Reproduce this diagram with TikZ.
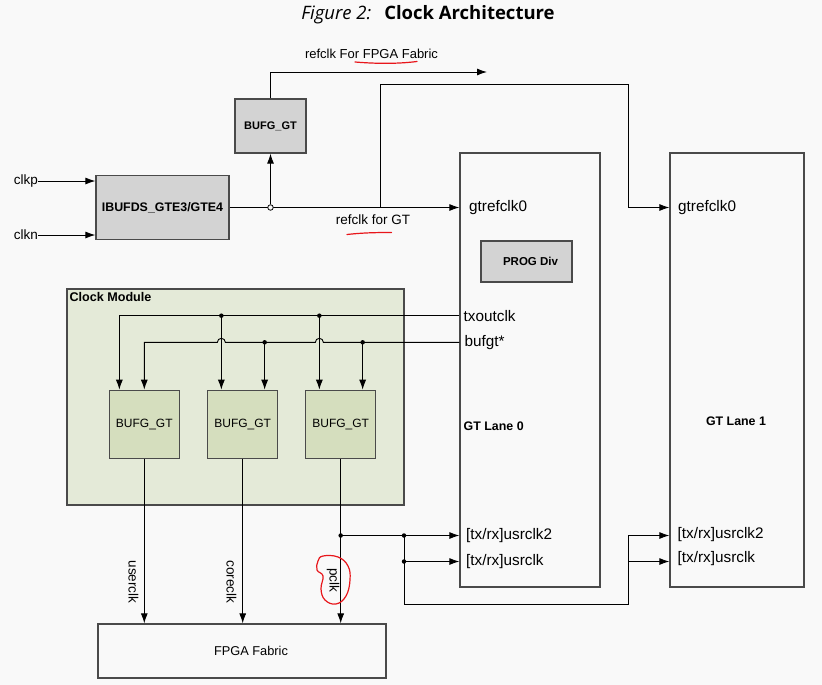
\documentclass[tikz,border=0pt]{standalone}
\usepackage{fontspec}
\setmainfont{Liberation Sans}
\newfontfamily\titlefont{Open Sans}
\usetikzlibrary{arrows.meta,calc}
\definecolor{bgc}{HTML}{F9F9F9}
\definecolor{boxgray}{HTML}{D3D3D3}
\definecolor{boxline}{HTML}{4A4A4A}
\definecolor{cmfill}{HTML}{E4EAD8}
\definecolor{bgfill}{HTML}{D5DEBE}
\definecolor{annot}{HTML}{E8161B}
\begin{document}
\begin{tikzpicture}[x=1pt,y=-1pt,
  box/.style={draw=boxline, line width=1.3pt, inner sep=0pt, align=center},
  graybox/.style={box, fill=boxgray, font=\fontsize{11.5}{14}\selectfont\bfseries},
  greenbox/.style={box, fill=bgfill, minimum width=70, minimum height=68, font=\fontsize{12}{14}\selectfont},
  lbl/.style={inner sep=0pt, font=\fontsize{13.5}{16}\selectfont},
  port/.style={inner sep=0pt, anchor=west, font=\fontsize{15.3}{18}\selectfont},
  wire/.style={line width=0.9pt, draw=black},
  arr/.style={wire, -{Latex[length=10pt,width=7pt]}},
  dot/.style={circle, fill=black, inner sep=0pt, minimum size=4.5pt},
  redline/.style={draw=annot, line width=1.2pt, line cap=round, line join=round},
  ]
\fill[bgc] (0,0) rectangle (822,685);
\useasboundingbox (0,0) rectangle (822,685);

% title
\node[inner sep=0pt, font=\titlefont\fontsize{18.5}{22}\selectfont] (title) at (428,15)
  {{\itshape Figure 2:}\hspace{13pt}{\bfseries Clock Architecture}};

% boxes
\node[graybox, minimum width=71, minimum height=54, font=\fontsize{11}{13}\selectfont\bfseries] (bufgtop) at (270.5,126) {BUFG\_GT};
\node[graybox, minimum width=133, minimum height=64, font=\fontsize{12.4}{14}\selectfont\bfseries] (ibufds) at (162.5,207.5) {IBUFDS\_GTE3/GTE4};
\node[box, fill=bgc, minimum width=140, minimum height=434] (lane0) at (530,370) {};
\node[box, fill=bgc, minimum width=134, minimum height=434] (lane1) at (737,370) {};
\node[graybox, minimum width=91, minimum height=41] (prog) at (526.5,261.5) {\hspace{8pt}PROG Div};
\node[box, fill=cmfill, minimum width=337, minimum height=216] (clkmod) at (235.5,397) {};
\node[inner sep=0pt, anchor=north west, font=\fontsize{12.6}{14}\selectfont\bfseries] (cmlabel) at ($(clkmod.north west)+(3,4)$) {Clock Module};
\node[greenbox] (b1) at (144.3,424.3) {BUFG\_GT};
\node[greenbox] (b2) at (242.7,424.3) {BUFG\_GT};
\node[greenbox] (b3) at (340.7,424.3) {BUFG\_GT};
\node[box, fill=bgc, minimum width=288, minimum height=54, font=\fontsize{12.8}{15}\selectfont] (fabric) at (242,651) {\hspace*{18pt}FPGA Fabric};

% port labels
\node[port] (gtref0) at (469,208) {gtrefclk0};
\node[port] (gtref1) at (678,208) {gtrefclk0};
\node[port] (txo) at (463.5,315.7) {txoutclk};
\node[port] (bg) at (464.5,342.3) {bufgt*};
\node[inner sep=0pt, anchor=west, font=\fontsize{12.4}{14}\selectfont\bfseries] (gtl0) at (463.5,426) {GT Lane 0};
\node[inner sep=0pt, font=\fontsize{12.4}{14}\selectfont\bfseries] (gtl1) at (736,421) {GT Lane 1};
\node[port] (usr2) at (466,535.5) {[tx/rx]usrclk2};
\node[port] (usr) at (466,561.5) {[tx/rx]usrclk};
\node[port] (l1usr2) at (677.5,534.5) {[tx/rx]usrclk2};
\node[port] (l1usr) at (677.5,559) {[tx/rx]usrclk};

% inputs
\node[lbl, anchor=east] (clkp) at (38,181) {clkp};
\node[lbl, anchor=east] (clkn) at (38,235) {clkn};
\draw[arr] (clkp.east) -- (clkp.east -| ibufds.west);
\draw[arr] (clkn.east) -- (clkn.east -| ibufds.west);

% refclk
\draw[arr] (ibufds.east) -- (ibufds.east -| lane0.west);
\node[circle, draw=black, fill=bgc, inner sep=0pt, minimum size=5.5pt, line width=0.8pt] (jo) at (bufgtop.south |- ibufds.east) {};
\draw[arr] (jo.north) -- (bufgtop.south);
\coordinate (ff) at (487,72);
\draw[arr] (bufgtop.north) |- (ff);
\node[lbl, font=\fontsize{13}{16}\selectfont] (fflabel) at (371.5,54) {refclk For FPGA Fabric};
\coordinate (jr) at (380.7,207.5);
\coordinate (tr) at (628.3,84);
\draw[arr] (jr) |- (tr) |- (lane1.west |- ibufds.east);
\node[lbl] (gtlabel) at (373,220) {refclk for GT};

% clock module inputs
\coordinate (t1) at ($(b1.north west)+(10.7,0)$);
\coordinate (u1) at (b1.north);
\coordinate (t2) at ($(b2.north west)+(14.3,0)$);
\coordinate (u2) at ($(b2.north east)+(-13.7,0)$);
\coordinate (t3) at ($(b3.north west)+(14.3,0)$);
\coordinate (u3) at ($(b3.north east)+(-13.7,0)$);
\draw[arr] (lane0.west |- txo.west) -| (t1);
\draw[arr] (t2 |- txo.west) -- (t2);
\draw[arr] (t3 |- txo.west) -- (t3);
\node[dot] at (t2 |- txo.west) {};
\node[dot] at (t3 |- txo.west) {};
\draw[arr] (lane0.west |- bg.west) -- ($(t3 |- bg.west)+(4,0)$)
  arc[start angle=0,end angle=-180,radius=4] -- ($(t2 |- bg.west)+(4,0)$)
  arc[start angle=0,end angle=-180,radius=4] -| (u1);
\draw[arr] (u2 |- bg.west) -- (u2);
\draw[arr] (u3 |- bg.west) -- (u3);
\node[dot] at (u2 |- bg.west) {};
\node[dot] at (u3 |- bg.west) {};

% outputs
\draw[arr] (b1.south) -- (b1.south |- fabric.north);
\draw[arr] (b2.south) -- (b2.south |- fabric.north);
\draw[arr] (b3.south) -- (b3.south |- fabric.north);
\node[lbl, rotate=-90] (userclk) at (133.5,582) {userclk};
\node[lbl, rotate=-90] (coreclk) at (231.5,582) {coreclk};
\node[lbl, rotate=-90] (pclk) at (333,580) {pclk};

% usrclk wiring
\coordinate (pj) at (b3.south |- usr2.west);
\coordinate (k) at (404,535.5);
\coordinate (kr) at (628.3,604);
\draw[arr] (pj) -- (lane0.west |- usr2.west);
\draw[arr] (k |- usr.west) -- (lane0.west |- usr.west);
\draw[arr] (k) |- (kr) |- (lane1.west |- usr2.west);
\draw[arr] (kr |- usr.west) -- (lane1.west |- usr.west);
\node[dot] at (pj) {};
\node[dot] at (k) {};
\node[dot] at (k |- usr.west) {};

% red annotations
\draw[redline] (355,62) .. controls (385,64.5) and (405,63) .. (417,61.5);
\draw[redline] (347,234.5) .. controls (365,232.5) and (380,232.5) .. (391.5,232.5);
\draw[redline] plot[smooth cycle, tension=0.7] coordinates {(323,556) (338,557) (348,566) (350,580) (346,596) (336,604) (325,600) (321,589) (323,576) (317,570) (318,561)};
\end{tikzpicture}
\end{document}
